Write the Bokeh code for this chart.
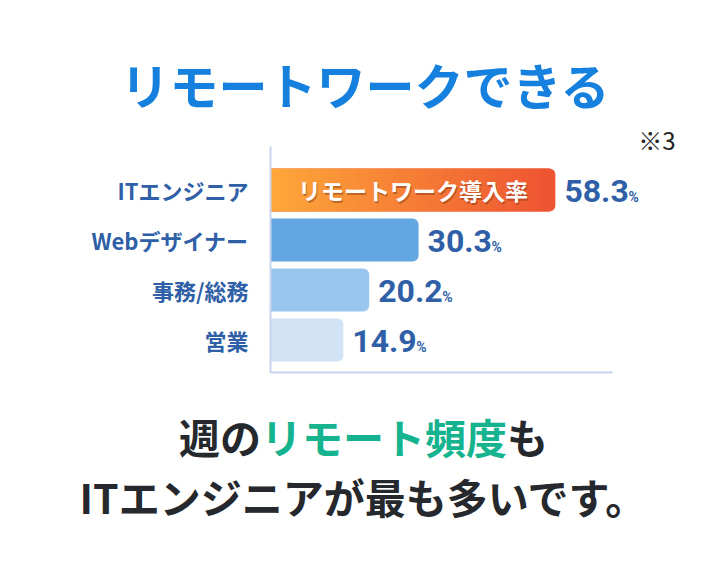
import numpy as np
from bokeh.plotting import figure
from bokeh.models import ColumnDataSource, Range1d, FixedTicker, LabelSet
from bokeh.core.properties import value
from bokeh.embed import file_html
from bokeh.resources import INLINE

# ---- data ----
categories = ["ITエンジニア", "Webデザイナー", "事務/総務", "営業"]
rates = [58.3, 30.3, 20.2, 14.9]
rate_labels = ["58.3", "30.3", "20.2", "14.9"]
bar_colors = ["#ee5532", "#62a6e2", "#98c6ef", "#d1e3f4"]
title_text = "リモートワークできる"
note_text = "※3"
inner_text = "リモートワーク導入率"
line1_parts = ["週の", "リモート頻度", "も"]
line2_text = "ITエンジニアが最も多いです。"

JP = "Noto Sans CJK JP"
NUM = "Roboto"
BLUE_TXT = "#2f5fa6"
DARK = "#25282c"
GREEN = "#16b38f"
W = 710


def blank_fig(h, y_top, y_bot):
    f = figure(width=W, height=h, min_border=0, title=None, toolbar_location=None,
               output_backend="svg", x_range=Range1d(0, W), y_range=Range1d(y_bot, y_top))
    f.axis.visible = False
    f.grid.visible = False
    f.outline_line_color = None
    f.background_fill_color = "white"
    f.border_fill_color = "white"
    return f

# ---------------- top: title ----------------
top = blank_fig(122, 0, 122)
top.text(x=[365], y=[83], text=[title_text], text_font=value(JP), text_font_style="bold",
         text_font_size="49px", text_color="#1580de", text_align="center",
         text_baseline="middle")

# ---------------- chart ----------------
n = len(categories)
ypos = [n - 1 - i for i in range(n)]
bar_h = 0.86
num_size = 32


def num_width(s, size):
    return sum(0.27 * size if ch == "." else 0.5615 * size for ch in s)


src = ColumnDataSource(dict(
    y=ypos, v=rates, lab=rate_labels, color=bar_colors,
    pct=["%"] * n,
    pct_off=[9 + num_width(s, num_size) + 1.5 for s in rate_labels],
))

p = figure(frame_width=430, frame_height=250,
           min_border_left=270, min_border_right=10,
           min_border_top=0, min_border_bottom=20,
           title=None, toolbar_location=None, output_backend="svg",
           x_range=Range1d(0, 88.0), y_range=Range1d(-0.65, 4.35))
p.outline_line_color = None
p.background_fill_color = "white"
p.border_fill_color = "white"
p.xgrid.visible = False
p.ygrid.visible = False

p.yaxis.ticker = FixedTicker(ticks=ypos)
p.yaxis.bounds = (-0.65, 3.87)
p.yaxis.major_label_overrides = {y: c for y, c in zip(ypos, categories)}
p.yaxis.major_label_text_font = JP
p.yaxis.major_label_text_font_style = "bold"
p.yaxis.major_label_text_font_size = "22px"
p.yaxis.major_label_text_color = BLUE_TXT
p.yaxis.major_label_standoff = 16
p.yaxis.major_tick_line_color = None
p.yaxis.minor_tick_line_color = None
p.yaxis.axis_line_color = "#c8d5ee"
p.yaxis.axis_line_width = 2

p.xaxis.ticker = FixedTicker(ticks=[])
p.xaxis.bounds = (0, 70)
p.xaxis.major_tick_line_color = None
p.xaxis.minor_tick_line_color = None
p.xaxis.axis_line_color = "#c8d5ee"
p.xaxis.axis_line_width = 2

p.hbar(y="y", left=0, right="v", height=bar_h, fill_color="color",
       line_color=None, border_radius=(0, 6, 6, 0), source=src)

# gradient on the top bar
N = 256
img = np.empty((2, N), dtype=np.uint32)
view = img.view(dtype=np.uint8).reshape((2, N, 4))
c0 = np.array([254, 168, 58])
c1 = np.array([238, 85, 50])
t = np.linspace(0, 1, N)
for k in range(3):
    view[:, :, k] = (c0[k] + (c1[k] - c0[k]) * t).astype(np.uint8)
view[:, :, 3] = 255
p.image_rgba(image=[img], x=0, y=ypos[0] - bar_h / 2, dw=rates[0] - 1.2, dh=bar_h)

p.text(x=[rates[0] / 2], y=[ypos[0]], text=[inner_text], x_offset=1, y_offset=1.5,
       text_font=value(JP), text_font_style="bold", text_font_size="23px",
       text_color="#7a2e10", text_alpha=0.45, text_align="center", text_baseline="middle")
p.text(x=[rates[0] / 2], y=[ypos[0]], text=[inner_text],
       text_font=value(JP), text_font_style="bold", text_font_size="23px",
       text_color="white", text_align="center", text_baseline="middle")

p.add_layout(LabelSet(x="v", y="y", text="lab", source=src, x_offset=9, y_offset=-11.5,
                      text_font=value(NUM), text_font_style="bold",
                      text_font_size=f"{num_size}px", text_color=BLUE_TXT,
                      text_align="left", text_baseline="alphabetic"))
p.add_layout(LabelSet(x="v", y="y", text="pct", source=src, x_offset="pct_off", y_offset=-11.5,
                      text_font=value(NUM), text_font_style="bold",
                      text_font_size="14px", text_color=BLUE_TXT,
                      text_align="left", text_baseline="alphabetic"))

p.text(x=[82.9], y=[4.01], text=[note_text], text_font=value(JP), text_font_size="24px",
       text_color="#222222", text_align="right", text_baseline="middle")

# ---------------- bottom text ----------------
bot = blank_fig(170, 392, 562)
em = 41
xx = 178.5
for part, col in zip(line1_parts, [DARK, GREEN, DARK]):
    bot.text(x=[xx], y=[435], text=[part], text_font=value(JP), text_font_style="bold",
             text_font_size=f"{em}px", text_color=col, text_align="left",
             text_baseline="middle")
    xx += em * len(part)
bot.text(x=[363], y=[495], text=[line2_text], text_font=value(JP), text_font_style="bold",
         text_font_size=f"{em}px", text_color=DARK, text_align="center",
         text_baseline="middle")

open("out.html", "w").write(file_html([top, p, bot], INLINE))
